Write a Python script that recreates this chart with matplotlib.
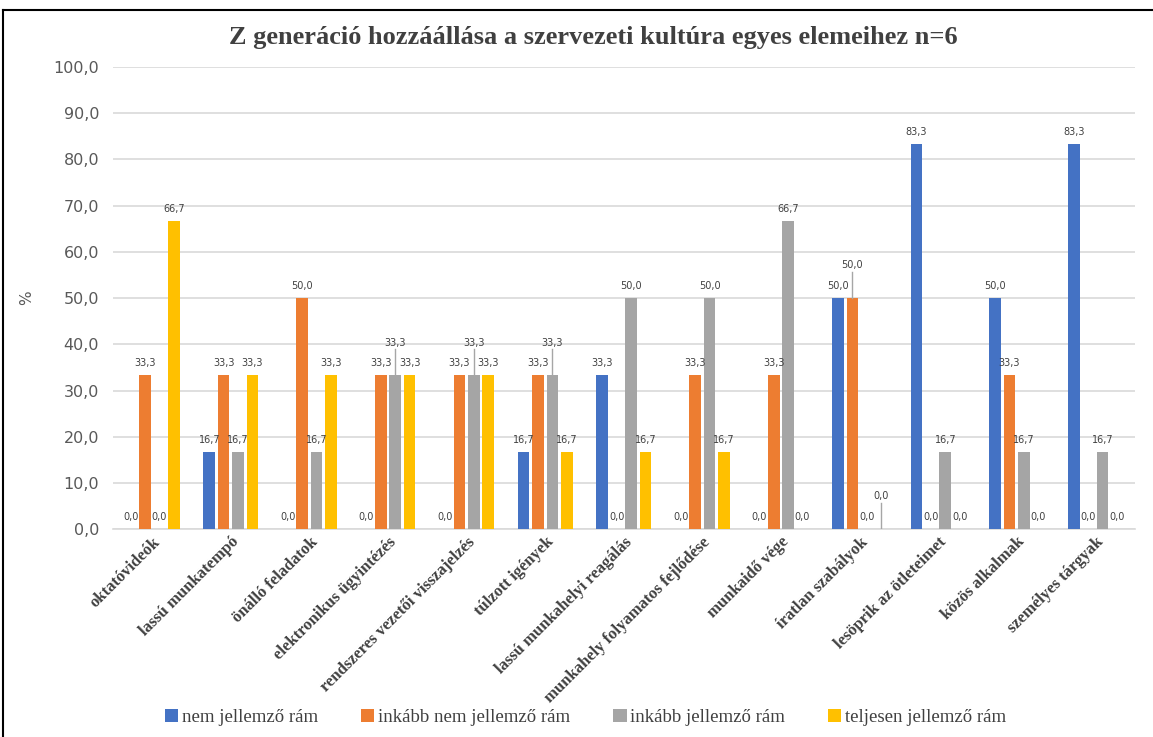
import matplotlib.pyplot as plt
import numpy as np

categories = ['oktatóvideók', 'lassú munkatempó', 'önálló feladatok',
              'elektronikus ügyintézés', 'rendszeres vezetői visszajelzés',
              'túlzott igények', 'lassú munkahelyi reagálás',
              'munkahely folyamatos fejlődése', 'munkaidő vége',
              'íratlan szabályok', 'lesöprik az ötleteimet', 'közös alkalmak',
              'személyes tárgyak']

nem = [0.0, 16.7, 0.0, 0.0, 0.0, 16.7, 33.3, 0.0, 0.0, 50.0, 83.3, 50.0, 83.3]
inkabb_nem = [33.3, 33.3, 50.0, 33.3, 33.3, 33.3, 0.0, 33.3, 33.3, 50.0, 0.0, 33.3, 0.0]
inkabb = [0.0, 16.7, 16.7, 33.3, 33.3, 33.3, 50.0, 50.0, 66.7, 0.0, 16.7, 16.7, 16.7]
teljesen = [66.7, 33.3, 33.3, 33.3, 33.3, 16.7, 16.7, 16.7, 0.0, 0.0, 0.0, 0.0, 0.0]

series = [('nem jellemző rám', nem, '#4472C4'),
          ('inkább nem jellemző rám', inkabb_nem, '#ED7D31'),
          ('inkább jellemző rám', inkabb, '#A5A5A5'),
          ('teljesen jellemző rám', teljesen, '#FFC000')]

fig = plt.figure(figsize=(11.53, 7.37), dpi=100)
ax = fig.add_axes([0.098, 0.282, 0.886, 0.627])

x = np.arange(len(categories))
width = 0.148
step = 0.183
for i, (name, vals, col) in enumerate(series):
    ax.bar(x + (i - 1.5) * step, vals, width, color=col, label=name, zorder=3)

# data labels: raise a label when it would sit on top of its left neighbour
for c in range(len(categories)):
    prev_y = None
    prev_raised = False
    for i, (name, vals, col) in enumerate(series):
        v = vals[c]
        px = c + (i - 1.5) * step
        y = v + 1.5
        raised = False
        if prev_y is not None and abs(y - prev_y) < 3.5 and not (prev_raised and y < prev_y - 1):
            if not prev_raised or abs(y - prev_y) < 3.5:
                y = prev_y + 4.5
                raised = True
        if raised:
            ax.plot([px, px], [v, y - 0.3], color='#a6a6a6', linewidth=1, zorder=4)
        ax.text(px, y, f'{v:.1f}'.replace('.', ','), ha='center', va='bottom',
                fontsize=7, color='#404040', zorder=5)
        prev_y = y
        prev_raised = raised

ax.set_xlim(-0.5, len(categories) - 0.5)
ax.set_ylim(0, 100)
ax.set_yticks(np.arange(0, 101, 10))
ax.set_yticklabels([f'{t:.1f}'.replace('.', ',') for t in np.arange(0, 101, 10)],
                   fontsize=11.5, color='#595959')
ax.yaxis.grid(True, color='#d9d9d9', linewidth=1.2, zorder=0)
ax.set_axisbelow(True)
for s in ['top', 'right', 'left']:
    ax.spines[s].set_visible(False)
ax.spines['bottom'].set_color('#d9d9d9')
ax.spines['bottom'].set_linewidth(1.2)
ax.tick_params(axis='both', length=0)
ax.tick_params(axis='y', pad=10)

ax.set_xticks(x)
ax.set_xticklabels(categories, rotation=45, ha='right', rotation_mode='anchor',
                   family='Liberation Serif', fontweight='bold', fontsize=12,
                   color='#404040')
ax.set_ylabel('%', fontsize=11, color='#595959', labelpad=14)

fig.text(0.515, 0.949, 'Z generáció hozzáállása a szervezeti kultúra egyes elemeihez n=6',
         ha='center', va='center', family='Liberation Serif', fontweight='bold',
         fontsize=19, color='#404040')

fig.legend(loc='lower center', bbox_to_anchor=(0.508, -0.008), ncol=4,
           frameon=False, prop={'family': 'Liberation Serif', 'size': 13.5},
           handlelength=0.7, handleheight=0.7, handletextpad=0.2,
           columnspacing=2.3, labelcolor='#404040')

fig.add_artist(plt.Line2D([0.003, 1.0], [0.986, 0.986], color='black', linewidth=1.5))
fig.add_artist(plt.Line2D([0.003, 0.003], [0.0, 0.986], color='black', linewidth=1.5))

plt.savefig('out.png')
